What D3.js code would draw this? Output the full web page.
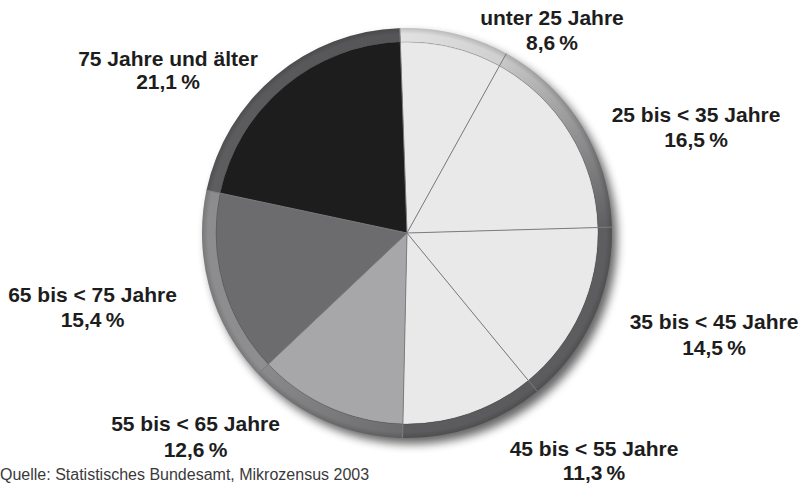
<!DOCTYPE html>
<html>
<head>
<meta charset="utf-8">
<script src="https://cdn.jsdelivr.net/npm/d3@7"></script>
<style>
  body { margin: 0; background: #fff; }
  svg { display: block; }
  .lbl { font-family: "Liberation Sans", Arial, Helvetica, sans-serif; font-weight: bold; font-size: 21px; fill: #1d1d1d; }
  .src { font-family: "Liberation Sans", Arial, Helvetica, sans-serif; font-size: 16px; fill: #3a3a3a; }
</style>
</head>
<body>
<div id="chart"></div>
<script>
// age groups and shares (percent)
var categories = ["unter 25 Jahre", "25 bis < 35 Jahre", "35 bis < 45 Jahre", "45 bis < 55 Jahre",
                  "55 bis < 65 Jahre", "65 bis < 75 Jahre", "75 Jahre und älter"];
var values = [8.6, 16.5, 14.5, 11.3, 12.6, 15.4, 21.1];
var source = "Quelle: Statistisches Bundesamt, Mikrozensus 2003";

// styles / layout
var sliceColors = ["#e9e9ea", "#e9e9ea", "#e9e9ea", "#e9e9ea", "#a7a7a9", "#6c6c6f", "#1e1d1e"];
var ringFrom =    ["#e2e2e3", "#c8c8c9", "#5e5e60", "#5b5b5d", "#6c6c6e", "#8e8e90", "#5e5e60"];
var ringTo =      ["#cfcfd0", "#5f5f61", "#5c5c5e", "#5c5c5e", "#8a8a8c", "#8c8c8e", "#555557"];
// label anchor: x, baseline of first line, baseline of second line
var labelPos = [[552, 24.5, 49.5], [696, 121.5, 147], [714, 328.5, 355], [594, 455.5, 480],
                [195.5, 430.5, 456.5], [92.5, 302, 327], [168, 65.5, 88.5]];

var width = 803, height = 484;
var cx = 407, cy = 233, rIn = 191, rOut = 205;
var start = -0.035;

var svg = d3.select("#chart").append("svg")
    .attr("width", width)
    .attr("height", height);

var defs = svg.append("defs");
var blur = defs.append("filter").attr("id", "shadow")
    .attr("x", "-20%").attr("y", "-20%").attr("width", "140%").attr("height", "140%");
blur.append("feGaussianBlur").attr("stdDeviation", 5);

var pie = d3.pie().sort(null).value(function(d) { return d; })
    .startAngle(start).endAngle(start + 2 * Math.PI);
var arcs = pie(values);

var slice = d3.arc().innerRadius(0).outerRadius(rIn);
var ring = d3.arc().innerRadius(rIn).outerRadius(rOut);

// gradients for the rim, along each slice
arcs.forEach(function(d, i) {
    var r = (rIn + rOut) / 2;
    defs.append("linearGradient")
        .attr("id", "rim" + i)
        .attr("gradientUnits", "userSpaceOnUse")
        .attr("x1", r * Math.sin(d.startAngle)).attr("y1", -r * Math.cos(d.startAngle))
        .attr("x2", r * Math.sin(d.endAngle)).attr("y2", -r * Math.cos(d.endAngle))
        .selectAll("stop")
        .data([ringFrom[i], ringTo[i]])
        .enter().append("stop")
        .attr("offset", function(c, k) { return k * 100 + "%"; })
        .attr("stop-color", function(c) { return c; });
});

var rimShade = defs.append("radialGradient").attr("id", "rimShade")
    .attr("gradientUnits", "userSpaceOnUse").attr("cx", 0).attr("cy", 0).attr("r", rOut);
rimShade.append("stop").attr("offset", rIn / rOut).attr("stop-color", "#000").attr("stop-opacity", 0);
rimShade.append("stop").attr("offset", (rIn + 8) / rOut).attr("stop-color", "#000").attr("stop-opacity", 0);
rimShade.append("stop").attr("offset", 1).attr("stop-color", "#000").attr("stop-opacity", 0.15);

var g = svg.append("g").attr("transform", "translate(" + cx + "," + cy + ")");

// drop shadow
g.append("circle")
    .attr("cx", 5).attr("cy", 6).attr("r", rOut)
    .attr("fill", "#000").attr("opacity", 0.6)
    .attr("filter", "url(#shadow)");

g.selectAll(".slice")
    .data(arcs)
    .enter().append("path")
    .attr("class", "slice")
    .attr("d", slice)
    .attr("fill", function(d, i) { return sliceColors[i]; });

g.selectAll(".rim")
    .data(arcs)
    .enter().append("path")
    .attr("class", "rim")
    .attr("d", ring)
    .attr("fill", function(d, i) { return "url(#rim" + i + ")"; });

g.append("path")
    .attr("d", ring({ startAngle: 0, endAngle: 2 * Math.PI }))
    .attr("fill", "url(#rimShade)");

g.append("circle").attr("r", rIn)
    .attr("fill", "none").attr("stroke", "#000").attr("stroke-opacity", 0.22).attr("stroke-width", 0.8);

// separator lines
g.selectAll(".sep")
    .data(arcs)
    .enter().append("line")
    .attr("class", "sep")
    .attr("x1", 0).attr("y1", 0)
    .attr("x2", function(d) { return rOut * Math.sin(d.startAngle); })
    .attr("y2", function(d) { return -rOut * Math.cos(d.startAngle); })
    .attr("stroke", "#7d7d7f")
    .attr("stroke-width", 1);

var fmt = function(v) { return d3.format(".1f")(v).replace(".", ",") + "\u2009%"; };

var labels = svg.selectAll(".lbl")
    .data(arcs)
    .enter().append("text")
    .attr("class", "lbl")
    .attr("text-anchor", "middle");
labels.append("tspan")
    .attr("x", function(d, i) { return labelPos[i][0]; })
    .attr("y", function(d, i) { return labelPos[i][1]; })
    .text(function(d, i) { return categories[i]; });
labels.append("tspan")
    .attr("x", function(d, i) { return labelPos[i][0]; })
    .attr("y", function(d, i) { return labelPos[i][2]; })
    .text(function(d) { return fmt(d.data); });

svg.append("text")
    .attr("class", "src")
    .attr("x", 0)
    .attr("y", 479.5)
    .text(source);
</script>
</body>
</html>
